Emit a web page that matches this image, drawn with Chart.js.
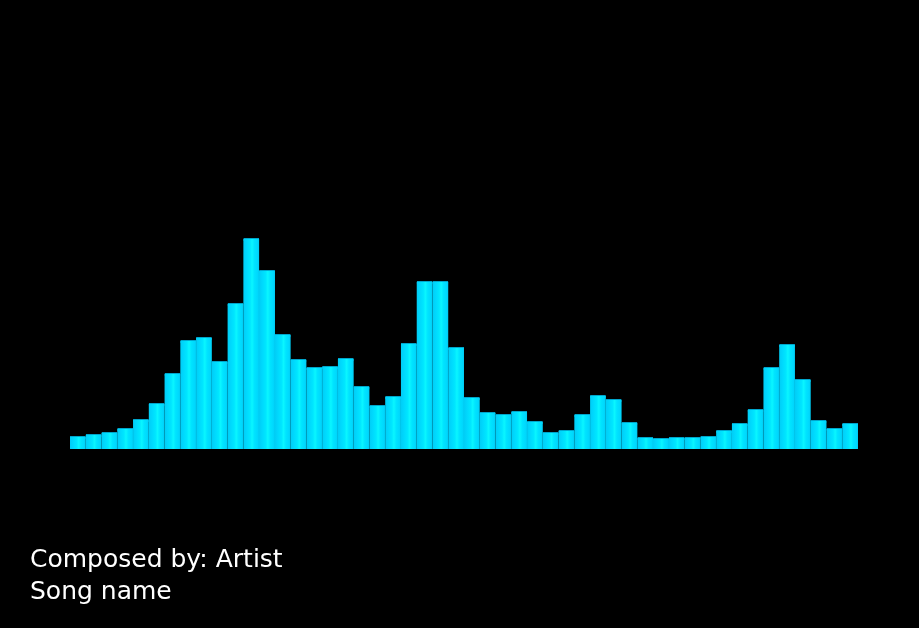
<!DOCTYPE html>
<html>
<head>
<meta charset="utf-8">
<script src="https://cdn.jsdelivr.net/npm/chart.js@4.4.1/dist/chart.umd.min.js"></script>
<style>
  html, body { margin: 0; padding: 0; background: #000; }
  #wrap { width: 919px; height: 628px; }
</style>
</head>
<body>
<div id="wrap"><canvas id="spectrum"></canvas></div>
<script>
// Bands of the spectrum (not shown on the chart)
const bands = [
  "1", "2", "3", "4", "5", "6", "7", "8", "9", "10",
  "11", "12", "13", "14", "15", "16", "17", "18", "19", "20",
  "21", "22", "23", "24", "25", "26", "27", "28", "29", "30",
  "31", "32", "33", "34", "35", "36", "37", "38", "39", "40",
  "41", "42", "43", "44", "45", "46", "47", "48", "49", "50"
];

// Level of each band
const levels = [
  12, 14, 16, 20, 29, 45, 75, 108, 111, 87,
  145, 210, 178, 114, 89, 81, 82, 90, 62, 43,
  52, 105, 167, 167, 101, 51, 36, 34, 37, 27,
  16, 18, 34, 53, 49, 26, 11, 10, 11, 11,
  12, 18, 25, 39, 81, 104, 69, 28, 20, 25
];

const credits = ["Composed by: Artist", "Song name"];

// Cylinder-like shading across each bar
function barShade(context) {
  const chart = context.chart;
  const xScale = chart.scales.x;
  if (!chart.chartArea || !xScale) return "#00E0FF";
  const x = xScale.getPixelForValue(context.dataIndex);
  const half = xScale.width / bands.length / 2;
  const g = chart.ctx.createLinearGradient(x - half, 0, x + half, 0);
  g.addColorStop(0, "#00CDF6");
  g.addColorStop(0.2, "#00D8FD");
  g.addColorStop(0.42, "#00E6FF");
  g.addColorStop(0.55, "#0AF6FF");
  g.addColorStop(0.7, "#00E4FF");
  g.addColorStop(0.9, "#00D8FD");
  g.addColorStop(1, "#00CBF2");
  return g;
}

const ctx = document.getElementById("spectrum").getContext("2d");
new Chart(ctx, {
  type: "bar",
  data: {
    labels: bands,
    datasets: [
      {
        data: levels,
        backgroundColor: barShade,
        borderColor: "#00A6CC",
        borderWidth: { top: 1, left: 0, right: 0, bottom: 0 },
        borderSkipped: false,
        inflateAmount: 1,
        barPercentage: 1,
        categoryPercentage: 1,
      },
    ],
  },
  options: {
    responsive: true,
    maintainAspectRatio: false,
    animation: false,
    layout: {
      padding: { top: 49, left: 30, right: 61, bottom: 0 },
    },
    plugins: {
      legend: { display: false },
      tooltip: { enabled: false },
      title: {
        display: true,
        text: credits,
        position: "bottom",
        align: "start",
        color: "#ffffff",
        font: { family: "'DejaVu Sans', sans-serif", size: 25, weight: "normal", lineHeight: "32px" },
        padding: { top: 95, bottom: 20 },
      },
    },
    scales: {
      x: {
        display: false,
      },
      y: {
        min: 0,
        max: 400,
        grid: { display: false },
        border: { display: false },
        ticks: { display: false },
        afterFit: function (scale) {
          scale.width = 40;
        },
      },
    },
  },
});
</script>
</body>
</html>
